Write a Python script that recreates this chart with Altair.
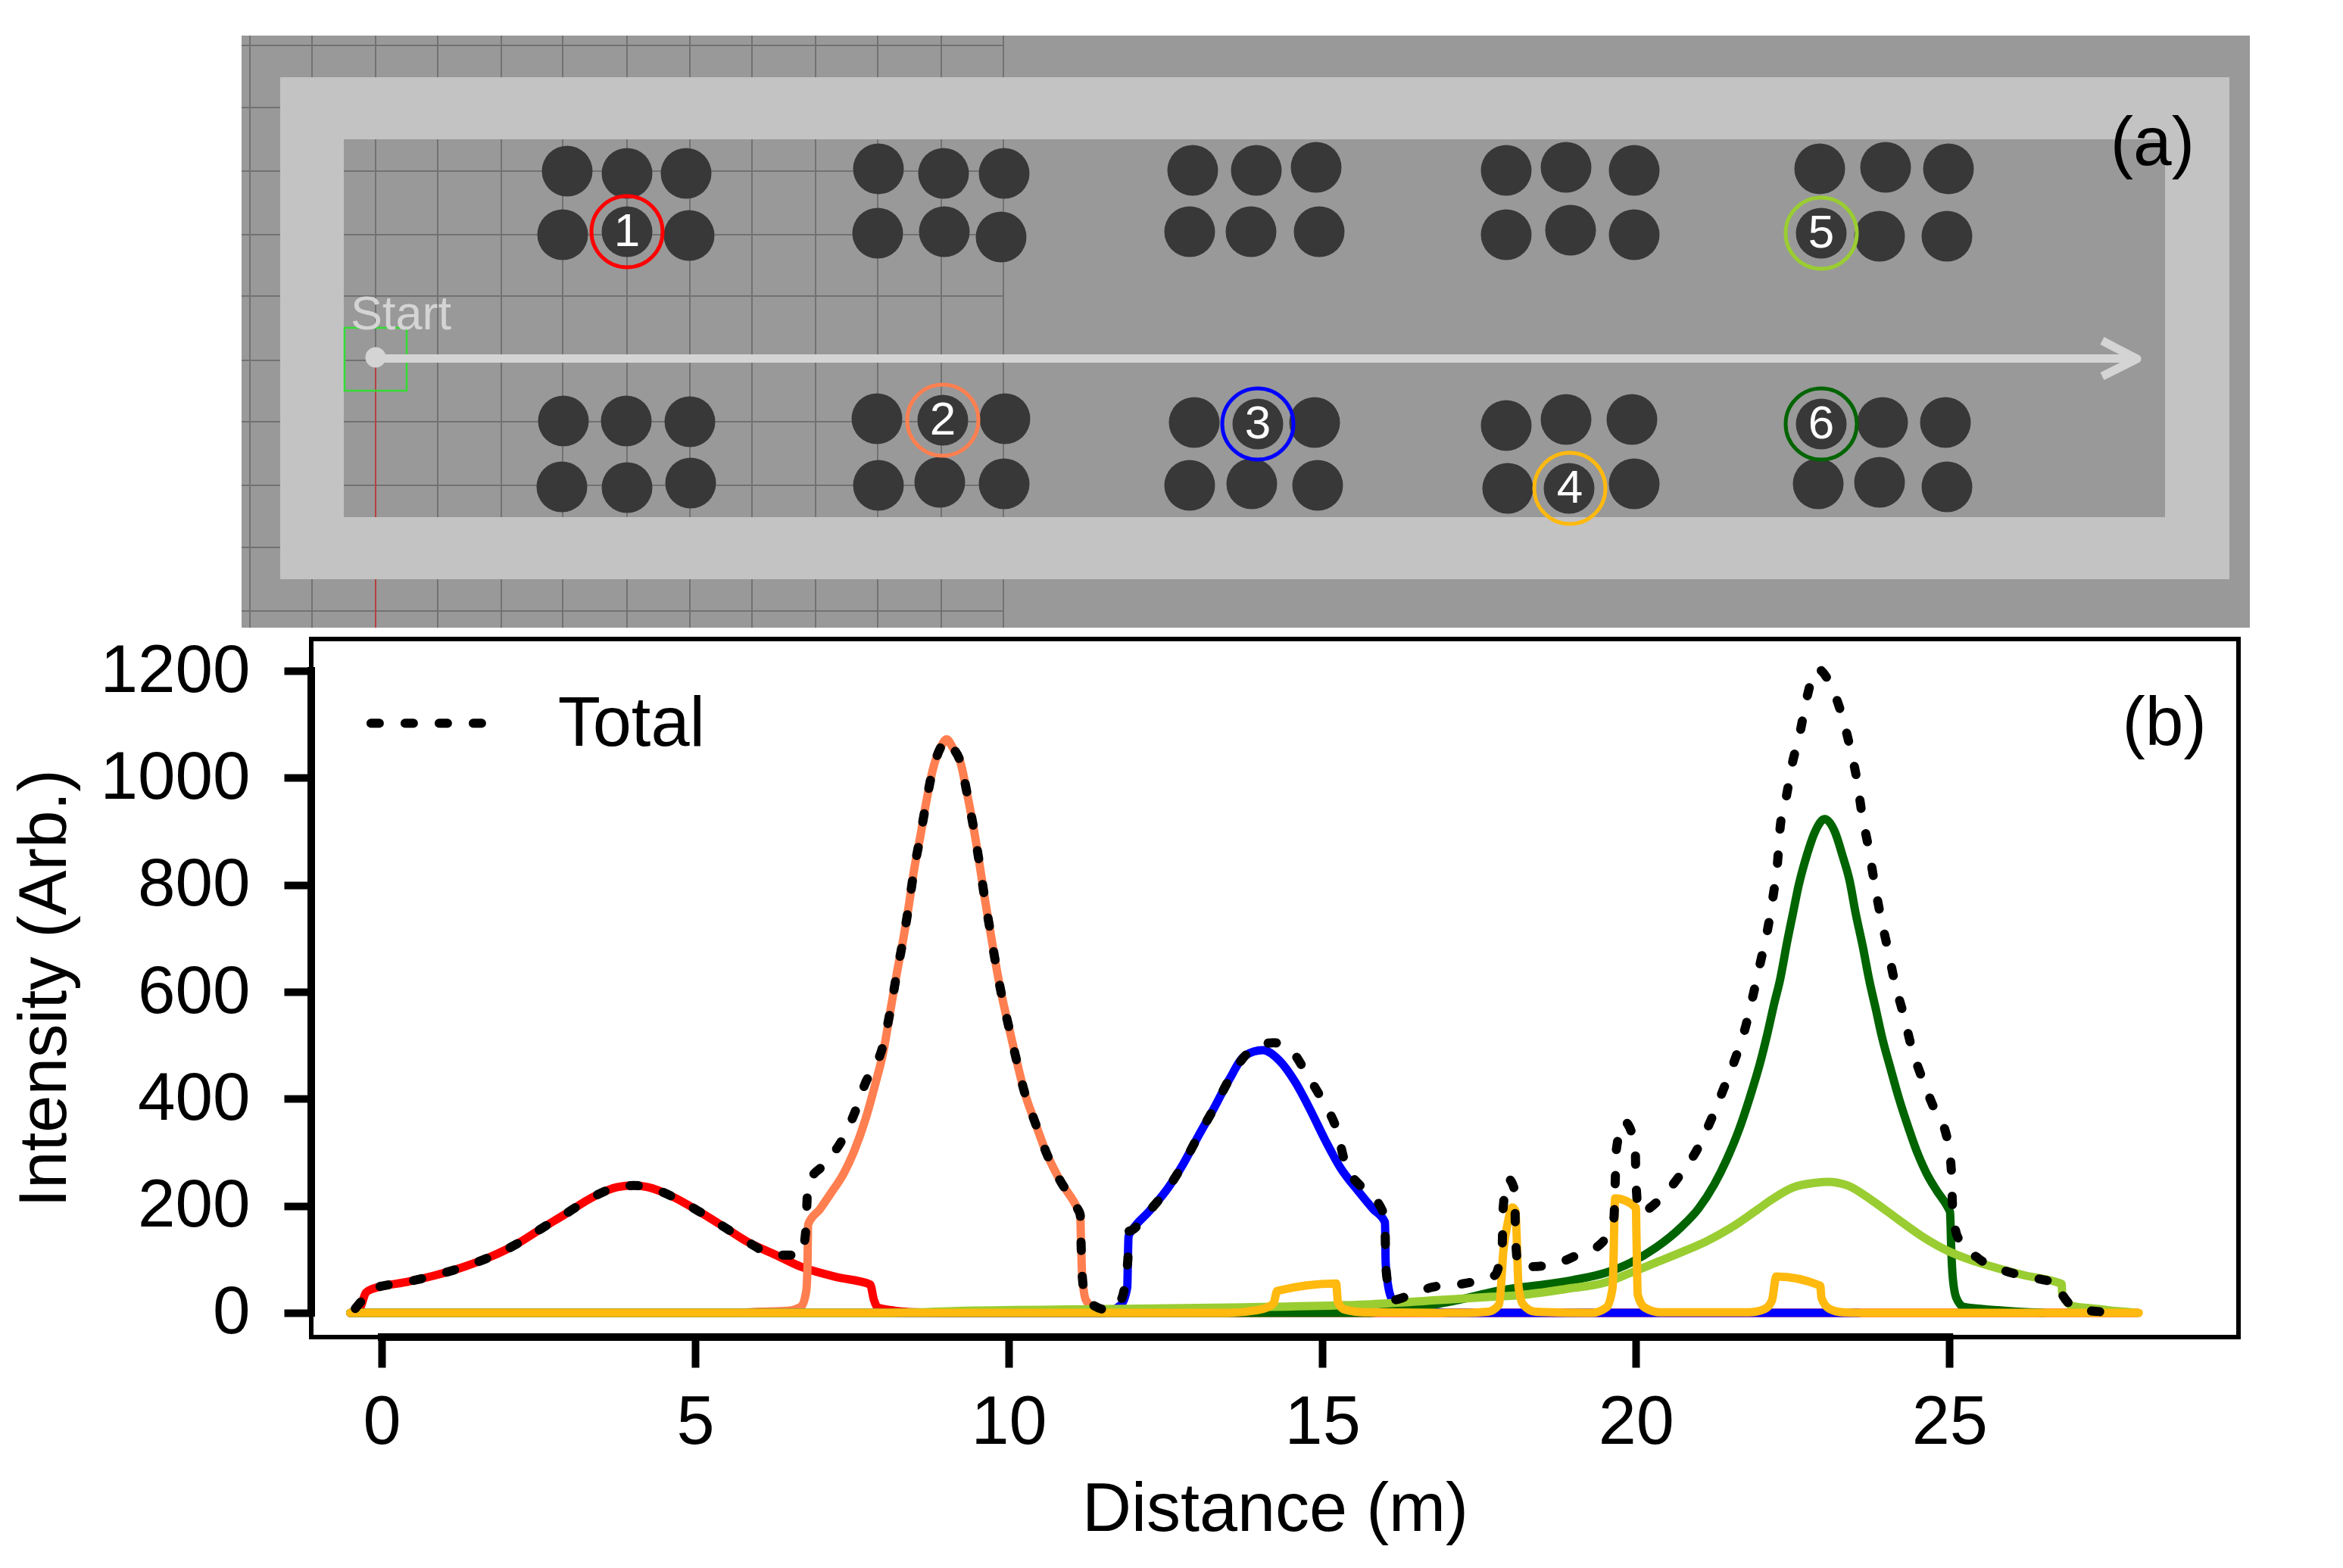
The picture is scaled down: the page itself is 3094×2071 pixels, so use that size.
import altair as alt
import pandas as pd

FONT = "Liberation Sans"

# ---- panel (b): series (Distance m, Intensity) ----
red_x = [-0.5,-0.35,-0.25,-0.14,0.37,0.85,1.31,1.74,2.16,2.54,2.92,3.33,3.76,4.02,4.24,4.66,5.04,5.44,5.83,6.29,6.69,7.25,7.79,7.85,7.91,8.18,8.5,9.0,28.0]
red_y = [0,8,38,45,57,70,86,105,129,157,184,214,235,238,235,216,191,162,133,108,86,67,53,24,10,4,1,0,0]
coral_x = [-0.5,5.6,6.01,6.48,6.69,6.77,6.79,6.80,6.99,7.16,7.37,7.54,7.71,7.87,8.0,8.13,8.22,8.32,8.41,8.49,8.59,8.68,8.79,8.91,9.01,9.11,9.23,9.34,9.44,9.53,9.61,9.7,9.79,9.89,10.0,10.12,10.25,10.42,10.6,10.82,11.1,11.14,11.15,11.17,11.23,11.35,11.74,12.2,28.0]
coral_y = [0,0,2,4,12,40,85,165,194,223,261,304,360,427,488,577,638,700,764,828,891,952,1016,1056,1072,1056,1029,968,906,842,780,717,654,592,535,474,413,356,299,247,194,183,143,72,24,10,4,0,0]
blue_x = [-0.5,11.5,11.79,11.89,11.9,11.91,11.97,12.24,12.55,12.79,13.03,13.28,13.51,13.77,14.05,14.32,14.57,14.81,15.05,15.29,15.57,15.81,16.0,16.01,16.04,16.12,16.33,16.66,17.0,23.56]
blue_y = [0,0,15,48,100,143,155,190,235,280,332,384,435,481,491,471,431,379,322,271,228,194,169,95,58,24,10,5,0,0]
yg_x = [-0.5,8.0,8.55,9.3,11.5,13.5,15.78,16.87,17.7,18.14,18.9,19.52,19.92,20.32,20.72,21.13,21.53,21.94,22.17,22.5,22.86,23.06,23.38,23.78,24.19,24.59,24.99,25.31,25.52,26.2,26.79,26.8,26.96,27.3,27.6,28.0]
yg_y = [0,0,1,4,7,10,16,24,30,33,45,57,75,94,113,134,160,193,212,234,243,245,238,209,174,141,115,100,92,70,54,34,13,8,4,0]
dg_x = [-0.5,15.7,16.2,17.0,17.8,18.99,19.52,19.92,20.32,20.72,21.0,21.25,21.45,21.65,21.81,21.99,22.09,22.2,22.3,22.42,22.5,22.6,22.72,22.86,23.01,23.17,23.3,23.41,23.5,23.62,23.72,23.83,23.92,24.07,24.19,24.35,24.47,24.63,24.8,24.98,25.01,25.03,25.05,25.11,25.23,25.77,26.0,26.5]
dg_y = [0,0,6,20,41,61,75,94,122,160,195,240,287,344,400,471,518,575,623,698,744,801,853,900,923,900,853,807,750,684,623,566,518,453,403,345,305,262,228,196,188,117,71,28,11,5,3,0]
or_x = [-0.5,13.5,13.97,14.22,14.28,15.22,15.25,15.36,15.66,17.3,17.64,17.82,17.89,17.96,18.03,18.08,18.13,18.2,18.4,19.3,19.53,19.63,19.67,20.0,20.01,20.03,20.14,20.4,21.8,22.05,22.17,22.24,22.94,22.96,23.08,23.3,23.6,28.02]
or_y = [0,0,5,17,41,55,20,6,1,0,2,16,119,170,197,190,48,16,2,0,10,48,214,197,143,34,10,1,1,7,23,68,51,28,8,1,0,0]
tot_x = [-0.42,-0.3,-0.14,0.37,0.85,1.31,1.74,2.16,2.54,2.92,3.33,3.76,4.02,4.24,4.66,5.04,5.44,5.83,6.29,6.69,6.76,6.80,7.08,7.36,7.56,7.73,7.87,8.0,8.13,8.22,8.32,8.41,8.49,8.59,8.68,8.79,8.91,9.01,9.11,9.23,9.34,9.44,9.53,9.61,9.7,9.79,9.89,10.0,10.12,10.25,10.42,10.6,10.82,11.1,11.14,11.15,11.17,11.23,11.35,11.6,11.79,11.9,11.91,11.97,12.24,12.55,12.79,13.03,13.28,13.51,13.8,14.22,14.49,14.77,15.02,15.23,15.36,15.64,15.95,16.0,16.01,16.04,16.12,16.33,16.75,17.27,17.75,17.87,17.88,17.96,18.07,18.08,18.13,18.59,19.03,19.44,19.65,19.67,19.69,19.81,19.99,20.0,20.05,20.43,20.72,20.99,21.2,21.39,21.55,21.75,21.87,21.98,22.1,22.19,22.26,22.3,22.4,22.49,22.62,22.72,22.89,23.11,23.28,23.42,23.53,23.61,23.71,23.8,23.9,24.02,24.13,24.27,24.4,24.56,24.76,24.96,25.03,25.05,25.13,25.47,25.9,26.37,26.79,26.8,27.09,27.63]
tot_y = [8,25,45,57,70,86,105,129,157,184,214,235,238,235,216,191,162,133,108,108,150,242,280,327,379,434,460,502,577,638,700,764,828,891,952,1016,1056,1072,1056,1029,968,906,842,780,717,654,592,535,474,413,356,299,247,194,183,143,72,24,14,5,24,100,152,155,190,235,280,332,384,435,484,505,492,443,393,342,282,233,193,169,95,58,24,30,48,55,70,129,190,251,228,143,86,88,106,129,177,242,306,358,313,249,188,218,260,308,361,416,464,535,594,652,716,780,843,906,965,1024,1086,1146,1204,1173,1119,1055,993,929,870,807,743,679,617,557,495,440,381,328,268,200,142,101,78,65,51,34,6,1]

SERIES = [("1", red_x, red_y, "#ff0000"),
          ("2", coral_x, coral_y, "#ff7f50"),
          ("3", blue_x, blue_y, "#0000ff"),
          ("6", dg_x, dg_y, "#006400"),
          ("5", yg_x, yg_y, "#9acd32"),
          ("4", or_x, or_y, "#ffb90f")]

x_ticks = [0, 5, 10, 15, 20, 25]
y_ticks = [0, 200, 400, 600, 800, 1000, 1200]
legend_x = [-0.17, 1.77]
legend_y = [1102, 1102]

# ---- panel (a): schematic, in picture units ----
pillars_x = [749,828,906,743,828,910,1160,1246,1326,1159,1247,1322,
             744,827,911,742,828,912,1158,1245,1327,1160,1241,1326,
             1575,1659,1738,1571,1652,1742,1989,2068,2158,1989,2074,2158,
             1577,1661,1736,1571,1653,1740,1989,2068,2155,1991,2072,2158,
             2403,2490,2573,2405,2482,2571,2405,2486,2569,2401,2482,2571]
pillars_y = [226,229,229,310,306,311,223,229,229,308,306,313,
             556,556,557,643,644,638,553,555,553,641,637,639,
             225,225,221,306,306,306,225,221,225,310,304,310,
             558,560,558,641,639,641,562,554,554,645,645,639,
             223,221,223,308,312,312,560,558,558,639,637,643]
ring_x = [828,1245,1661,2073,2405,2405]
ring_y = [306,555,560,645,308,560]
ring_c = ["#ff0000","#ff7f50","#0000ff","#ffb90f","#9acd32","#006400"]
ring_t = ["1","2","3","4","5","6"]
grid_vx = [330,412,496,578,662,743,828,911,993,1077,1159,1243,1325]
grid_hy = [60,142,226,310,391,476,557,641,723,807]
band_x0 = [370,370,370,2859]
band_x1 = [2944,2944,454,2944]
band_y0 = [102,683,102,102]
band_y1 = [184,765,765,765]

# the concat aligns plot origins, so panel (a) starts at panel (b)'s left edge (x = 411)
LEFT = 411
PW_A, PH_A = 2971 - LEFT, 821
sx = alt.Scale(domain=[LEFT, 2971], nice=False, zero=False)
sy = alt.Scale(domain=[829, 8], nice=False, zero=False)
X = alt.X("x:Q", scale=sx, axis=None)
Y = alt.Y("y:Q", scale=sy, axis=None)

def rects(df, color):
    return alt.Chart(df).mark_rect(color=color).encode(
        x=X, x2="x2:Q", y=Y, y2="y2:Q")

bg = rects(pd.DataFrame({"x":[319],"x2":[2971],"y":[47],"y2":[829]}), "#999999")
gv = alt.Chart(pd.DataFrame({"x":grid_vx,"y":[47]*len(grid_vx),"y2":[829]*len(grid_vx)})).mark_rule(
    color="#727272", strokeWidth=2).encode(x=X, y=Y, y2="y2:Q")
gh = alt.Chart(pd.DataFrame({"y":grid_hy,"x":[319]*len(grid_hy),"x2":[1325]*len(grid_hy)})).mark_rule(
    color="#727272", strokeWidth=2).encode(y=Y, x=X, x2="x2:Q")
redline = alt.Chart(pd.DataFrame({"x":[496],"y":[476],"y2":[829]})).mark_rule(
    color="#b5403f", strokeWidth=2).encode(x=X, y=Y, y2="y2:Q")
band = rects(pd.DataFrame({"x":band_x0,"x2":band_x1,"y":band_y0,"y2":band_y1}), "#c3c3c3")
square = alt.Chart(pd.DataFrame({"x":[455],"x2":[537],"y":[433],"y2":[516]})).mark_rect(
    fillOpacity=0, stroke="#33dd33", strokeWidth=2.5).encode(x=X, x2="x2:Q", y=Y, y2="y2:Q")
pillars = alt.Chart(pd.DataFrame({"x":pillars_x,"y":pillars_y})).mark_circle(
    size=67**2, color="#383838", opacity=1).encode(x=X, y=Y)
path = alt.Chart(pd.DataFrame({"x":[496,2820],"y":[473.5,473.5]})).mark_line(
    color="#d4d4d4", strokeWidth=11).encode(x=X, y=Y)
head = alt.Chart(pd.DataFrame({"x":[2776,2822,2776],"y":[450,474,497],"i":[0,1,2]})).mark_line(
    color="#d4d4d4", strokeWidth=11, strokeJoin="round").encode(x=X, y=Y, order="i:Q")
dot = alt.Chart(pd.DataFrame({"x":[496],"y":[472]})).mark_circle(
    size=27**2, color="#d4d4d4", opacity=1).encode(x=X, y=Y)
start = alt.Chart(pd.DataFrame({"x":[463],"y":[435],"t":["Start"]})).mark_text(
    font=FONT, fontSize=63, color="#d4d4d4", align="left", baseline="alphabetic").encode(x=X, y=Y, text="t:N")
rings = alt.Chart(pd.DataFrame({"x":ring_x,"y":ring_y,"c":ring_c})).mark_point(
    filled=False, size=94**2, strokeWidth=5, opacity=1).encode(
    x=X, y=Y, stroke=alt.Stroke("c:N", scale=None))
ringt = alt.Chart(pd.DataFrame({"x":ring_x,"y":ring_y,"t":ring_t})).mark_text(
    font=FONT, fontSize=62, color="white", align="center", baseline="middle").encode(x=X, y=Y, text="t:N")
lab_a = alt.Chart(pd.DataFrame({"x":[2898],"y":[191],"t":["(a)"]})).mark_text(
    font=FONT, fontSize=91, color="black", align="right", baseline="middle").encode(x=X, y=Y, text="t:N")

panel_a = alt.layer(bg, gv, gh, redline, band, square, pillars, path, head, dot,
                    start, rings, ringt, lab_a).properties(
    width=PW_A, height=PH_A, view=alt.ViewBackground(strokeWidth=0))

# ---- panel (b) ----
PW_B, PH_B = 2545, 922
bx = alt.Scale(domain=[-1.123, 29.61], nice=False, zero=False)
by = alt.Scale(domain=[-45.3, 1259.6], nice=False, zero=False)

axis_x = alt.Axis(values=x_ticks, title="Distance (m)", grid=False, domain=False,
                  tickWidth=10, tickSize=40, tickColor="black", labelFont=FONT, labelFontSize=90,
                  labelColor="black", labelPadding=29, titleFont=FONT, titleFontSize=90,
                  titleFontWeight="normal", titleColor="black", titlePadding=26, format="d")
axis_y = alt.Axis(values=y_ticks, title="Intensity (Arb.)", grid=False, domain=False,
                  tickWidth=10, tickSize=36, tickColor="black", labelFont=FONT, labelFontSize=89,
                  labelColor="black", labelPadding=45, labelLimit=500, titleFont=FONT, titleFontSize=89,
                  titleFontWeight="normal", titleColor="black", titlePadding=106, format="d")
x_plain = alt.X("x:Q", scale=bx, axis=axis_x)
y_plain = alt.Y("y:Q", scale=by, axis=axis_y)

x_line = alt.Chart(pd.DataFrame({"x":[x_ticks[0]],"x2":[x_ticks[-1]]})).mark_rule(
    color="black", strokeWidth=10, strokeCap="square").encode(
    x=x_plain, x2="x2:Q", y=alt.value(PH_B))
y_line = alt.Chart(pd.DataFrame({"y":[y_ticks[0]],"y2":[y_ticks[-1]]})).mark_rule(
    color="black", strokeWidth=10, strokeCap="square").encode(
    y=y_plain, y2="y2:Q", x=alt.value(0))

layers = [x_line, y_line]
for name, xs, ys, col in SERIES:
    layers.append(alt.Chart(pd.DataFrame({"x":xs,"y":ys})).mark_line(
        color=col, strokeWidth=11, interpolate="monotone", strokeJoin="round", strokeCap="round").encode(
        x=x_plain, y=y_plain))
DASH = [11, 34]
layers.append(alt.Chart(pd.DataFrame({"x":tot_x,"y":tot_y})).mark_line(
    color="black", strokeWidth=12, strokeDash=DASH, strokeCap="round", interpolate="monotone").encode(
    x=x_plain, y=y_plain))
layers.append(alt.Chart(pd.DataFrame({"x":legend_x,"y":legend_y})).mark_line(
    color="black", strokeWidth=12, strokeDash=DASH, strokeCap="round").encode(x=x_plain, y=y_plain))
layers.append(alt.Chart(pd.DataFrame({"x":[2.81],"y":[1100],"t":["Total"]})).mark_text(
    font=FONT, fontSize=92, color="black", align="left", baseline="middle").encode(x=x_plain, y=y_plain, text="t:N"))
layers.append(alt.Chart(pd.DataFrame({"x":[29.1],"y":[1100],"t":["(b)"]})).mark_text(
    font=FONT, fontSize=91, color="black", align="right", baseline="middle").encode(x=x_plain, y=y_plain, text="t:N"))

panel_b = alt.layer(*layers).properties(
    width=PW_B, height=PH_B, view=alt.ViewBackground(stroke="black", strokeWidth=6))

chart = alt.vconcat(panel_a, panel_b, spacing=9).properties(
    padding={"left":4,"top":0,"right":0,"bottom":0}, background="white")
chart.save("out.html", embed_options={"renderer": "svg", "actions": False})
